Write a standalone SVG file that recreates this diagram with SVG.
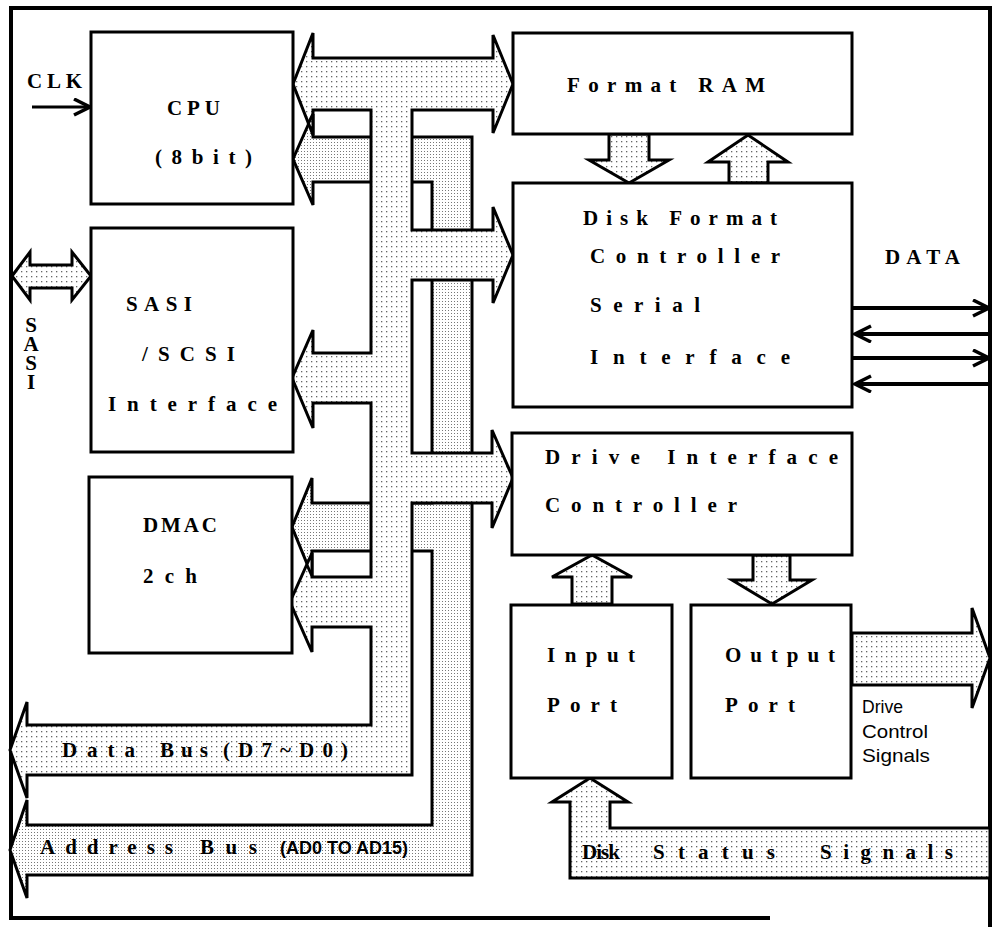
<svg xmlns="http://www.w3.org/2000/svg" width="1001" height="927" viewBox="0 0 1001 927">
<style>
.box{fill:#fff;stroke:#000;stroke-width:3}
.bus{stroke:#000;stroke-width:3;stroke-linejoin:miter}
.lt{fill:url(#lt)}
.dk{fill:url(#dk)}
.ln{fill:none;stroke:#000;stroke-width:3}
.t{font-family:"Liberation Serif","Times New Roman",serif;font-weight:bold;font-size:21px;fill:#000}
.n{font-family:"Liberation Sans","Arial",sans-serif;font-size:19px;fill:#000}
.v{writing-mode:vertical-rl;text-orientation:upright;letter-spacing:-5px}
</style>
<defs>
<pattern id="lt" width="5" height="5" patternUnits="userSpaceOnUse"><rect width="5" height="5" fill="#fff"/><rect x="1" y="1" width="1.3" height="1.3" fill="#666"/></pattern>
<pattern id="dk" width="3" height="3" patternUnits="userSpaceOnUse"><rect width="3" height="3" fill="#fff"/><rect x="1" y="1" width="1" height="1" fill="#777"/></pattern>
<marker id="ah" markerWidth="20" markerHeight="20" refX="17" refY="9" orient="auto" markerUnits="userSpaceOnUse"><path d="M1,1 L17,9 L1,17" fill="none" stroke="#000" stroke-width="3.5"/></marker>
</defs>
<rect width="1001" height="927" fill="#fff"/>
<g id="frame">
<path d="M770,918 L11,918 L11,8 L990,8 L990,927" fill="none" stroke="#000" stroke-width="4"/>
</g>
<g id="connectors">
<path class="bus dk" d="M293,159 L313,114 L313,137 L472,137 L472,875 L27,875 L27,898 L10,850 L27,800 L27,825 L432,825 L432,551 L312,551 L312,576 L292,527 L312,478 L312,503 L432,503 L432,182 L313,182 L313,205 Z"/>
<path class="bus lt" d="M293,84 L313,33 L313,58 L493,58 L493,35 L513,84 L493,133 L493,110 L412,110 L412,230 L493,230 L493,207 L513,255 L493,303 L493,280 L412,280 L412,453 L492,453 L492,430 L513,478 L492,528 L492,503 L412,503 L412,775 L27,775 L27,798 L10,750 L27,702 L27,725 L371,725 L371,627 L312,627 L312,652 L290,602 L312,553 L312,577 L371,577 L371,403 L313,403 L313,428 L292,378 L313,330 L313,353 L371,353 L371,110 L313,110 L313,135 Z"/>
<path class="ln" d="M308,124 L313,114 M307,565 L312,576"/>
<path class="bus lt" d="M12,276 L30,252 L30,265 L72,265 L72,252 L91,276 L72,300 L72,288 L30,288 L30,300 Z"/>
<path class="bus lt" d="M609,134 L649,134 L649,160 L669,160 L629,183 L589,160 L609,160 Z"/>
<path class="bus lt" d="M729,183 L768,183 L768,162 L788,162 L748,135 L708,162 L729,162 Z"/>
<path class="bus lt" d="M572,604 L612,604 L612,577 L632,577 L592,555 L552,577 L572,577 Z"/>
<path class="bus lt" d="M753,555 L790,555 L790,580 L812,580 L772,604 L732,580 L753,580 Z"/>
<path class="bus lt" d="M852,633 L972,633 L972,608 L990,658 L972,708 L972,685 L852,685 Z"/>
<path class="bus lt" d="M590,778 L628,802 L610,802 L610,828 L990,828 L990,878 L570,878 L570,802 L552,802 Z"/>
<line class="ln" x1="32" y1="107" x2="90" y2="107" marker-end="url(#ah)"/>
<line x1="853" y1="308" x2="989" y2="308" stroke="#000" stroke-width="4" marker-end="url(#ah)"/>
<line x1="989" y1="334" x2="855" y2="334" stroke="#000" stroke-width="4" marker-end="url(#ah)"/>
<line x1="853" y1="358" x2="989" y2="358" stroke="#000" stroke-width="4" marker-end="url(#ah)"/>
<line x1="989" y1="384" x2="855" y2="384" stroke="#000" stroke-width="4" marker-end="url(#ah)"/>
</g>
<g id="cpu">
<rect class="box" x="91" y="32" width="202" height="172"/>
<text class="t" x="167" y="115" textLength="53" lengthAdjust="spacing">CPU</text>
<text class="t" x="155" y="164" textLength="97" lengthAdjust="spacing">(8bit)</text>
</g>
<g id="sasi">
<rect class="box" x="91" y="228" width="202" height="224"/>
<text class="t" x="126" y="311" textLength="66" lengthAdjust="spacing">SASI</text>
<text class="t" x="142" y="361" textLength="93" lengthAdjust="spacing">/SCSI</text>
<text class="t" x="108" y="411" textLength="169" lengthAdjust="spacing">Interface</text>
</g>
<g id="dmac">
<rect class="box" x="89" y="477" width="203" height="176"/>
<text class="t" x="143" y="532" textLength="74" lengthAdjust="spacing">DMAC</text>
<text class="t" x="143" y="583" textLength="54" lengthAdjust="spacing">2ch</text>
</g>
<g id="format-ram">
<rect class="box" x="513" y="33" width="339" height="101"/>
<text class="t" x="567" y="92" textLength="198" lengthAdjust="spacing">Format RAM</text>
</g>
<g id="dfc">
<rect class="box" x="513" y="183" width="339" height="224"/>
<text class="t" x="583" y="225" textLength="194" lengthAdjust="spacing">Disk Format</text>
<text class="t" x="590" y="263" textLength="190" lengthAdjust="spacing">Controller</text>
<text class="t" x="590" y="312" textLength="110" lengthAdjust="spacing">Serial</text>
<text class="t" x="590" y="364" textLength="200" lengthAdjust="spacing">Interface</text>
</g>
<g id="dic">
<rect class="box" x="512" y="433" width="340" height="122"/>
<text class="t" x="545" y="464" textLength="293" lengthAdjust="spacing">Drive Interface</text>
<text class="t" x="545" y="512" textLength="192" lengthAdjust="spacing">Controller</text>
</g>
<g id="input-port">
<rect class="box" x="511" y="605" width="161" height="173"/>
<text class="t" x="547" y="662" textLength="88" lengthAdjust="spacing">Input</text>
<text class="t" x="547" y="712" textLength="70" lengthAdjust="spacing">Port</text>
</g>
<g id="output-port">
<rect class="box" x="691" y="605" width="160" height="173"/>
<text class="t" x="725" y="662" textLength="110" lengthAdjust="spacing">Output</text>
<text class="t" x="725" y="712" textLength="70" lengthAdjust="spacing">Port</text>
</g>
<g id="labels">
<text class="t" x="27" y="88" textLength="55" lengthAdjust="spacing">CLK</text>
<text class="t v" x="31" y="313" font-size="19">SASI</text>
<text class="t" x="885" y="264" textLength="75" lengthAdjust="spacing">DATA</text>
<text class="n" x="862" y="713" textLength="41" lengthAdjust="spacingAndGlyphs">Drive</text>
<text class="n" x="862" y="738" textLength="66" lengthAdjust="spacingAndGlyphs">Control</text>
<text class="n" x="862" y="762" textLength="68" lengthAdjust="spacingAndGlyphs">Signals</text>
<text class="t" x="62" y="757" textLength="73" lengthAdjust="spacing">Data</text>
<text class="t" x="160" y="757" textLength="48" lengthAdjust="spacing">Bus</text>
<text class="t" x="223" y="757" textLength="125" lengthAdjust="spacing">(D7~D0)</text>
<text class="t" x="40" y="854" textLength="133" lengthAdjust="spacing">Address</text>
<text class="t" x="200" y="854" textLength="57" lengthAdjust="spacing">Bus</text>
<text class="n" x="280" y="854" font-weight="bold" textLength="128" lengthAdjust="spacingAndGlyphs">(AD0 TO AD15)</text>
<text class="t" x="582" y="859" textLength="38" lengthAdjust="spacing">Disk</text>
<text class="t" x="653" y="859" textLength="122" lengthAdjust="spacing">Status</text>
<text class="t" x="820" y="859" textLength="133" lengthAdjust="spacing">Signals</text>
</g>
</svg>
